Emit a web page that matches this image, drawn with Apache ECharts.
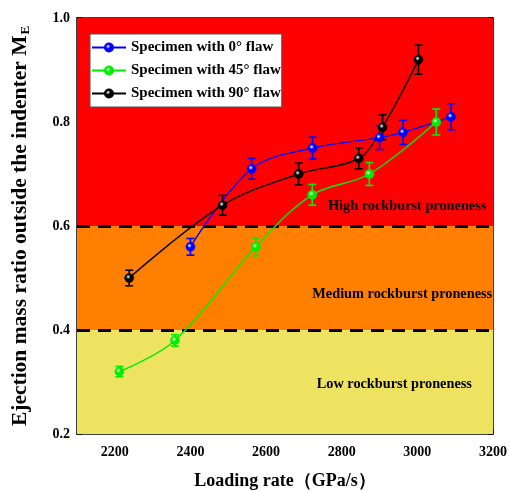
<!DOCTYPE html>
<html>
<head>
<meta charset="utf-8">
<script src="https://cdn.jsdelivr.net/npm/echarts@6/dist/echarts.min.js"></script>
<style>
  html, body { margin: 0; padding: 0; background: #fff; }
  #chart { width: 510px; height: 491px; }
</style>
</head>
<body>
<div id="chart"></div>
<script>
// Loading rate (GPa/s) and ejection mass ratio M_E with error half-widths
const rate0  = [2400, 2562, 2723, 2900, 2962, 3089];
const me0    = [0.56, 0.71, 0.75, 0.77, 0.78, 0.81];
const err0   = [0.016, 0.02, 0.021, 0.023, 0.023, 0.025];

const rate45 = [2212, 2359, 2573, 2722, 2873, 3050];
const me45   = [0.32, 0.38, 0.56, 0.66, 0.70, 0.80];
const err45  = [0.01, 0.011, 0.017, 0.02, 0.022, 0.025];

const rate90 = [2238, 2485, 2686, 2845, 2908, 3003];
const me90   = [0.50, 0.64, 0.70, 0.73, 0.79, 0.92];
const err90  = [0.015, 0.019, 0.021, 0.02, 0.024, 0.028];

const seriesNames = ['Specimen with 0° flaw', 'Specimen with 45° flaw', 'Specimen with 90° flaw'];
const seriesColors = ['#0000ff', '#00ee00', '#000000'];

// Axis ticks
const xMajorTicks = [2200, 2400, 2600, 2800, 3000, 3200];
const xMinorTicks = [2100, 2300, 2500, 2700, 2900, 3100];

// Proneness zones: [lower, upper, label, label position]
const zones = [
  { from: 0.6, to: 1.0, color: '#ff0000', text: 'High rockburst proneness',   at: [2973, 0.638] },
  { from: 0.4, to: 0.6, color: '#ff8000', text: 'Medium rockburst proneness', at: [2960, 0.469] },
  { from: 0.2, to: 0.4, color: '#ede360', text: 'Low rockburst proneness',    at: [2939, 0.296] }
];
const thresholds = [0.6, 0.4];

const serif = '"Liberation Serif", "Times New Roman", serif';

function sphere(color) {
  return {
    type: 'radial', x: 0.4, y: 0.38, r: 0.7,
    colorStops: [
      { offset: 0, color: '#ffffff' },
      { offset: 0.35, color: color },
      { offset: 1, color: color }
    ]
  };
}

function pairs(xs, ys) { return xs.map((x, i) => [x, ys[i]]); }

function errorSeries(xs, ys, es, color) {
  return {
    type: 'custom',
    z: 4,
    silent: true,
    data: xs.map((x, i) => [x, ys[i] - es[i], ys[i] + es[i]]),
    renderItem: function (params, api) {
      const lo = api.coord([api.value(0), api.value(1)]);
      const hi = api.coord([api.value(0), api.value(2)]);
      const w = 4;
      const st = { stroke: color, lineWidth: 1.6 };
      return {
        type: 'group',
        children: [
          { type: 'line', shape: { x1: lo[0], y1: lo[1], x2: hi[0], y2: hi[1] }, style: st },
          { type: 'line', shape: { x1: lo[0] - w, y1: lo[1], x2: lo[0] + w, y2: lo[1] }, style: st },
          { type: 'line', shape: { x1: hi[0] - w, y1: hi[1], x2: hi[0] + w, y2: hi[1] }, style: st }
        ]
      };
    }
  };
}

function lineSeries(name, xs, ys, color) {
  return {
    name: name,
    type: 'line',
    z: 5,
    smooth: 0.35,
    data: pairs(xs, ys),
    symbol: 'circle',
    symbolSize: 9,
    lineStyle: { color: color, width: 1.4 },
    itemStyle: { color: sphere(color), borderColor: color, borderWidth: 0.6 }
  };
}

const axisText = { fontFamily: serif, fontWeight: 'bold', fontSize: 14, color: '#000' };
const axisLine = { show: true, lineStyle: { color: '#000', width: 1.5 } };

// Horizontal axis: one pass for line/labels/major ticks, one for minor ticks, mirrored on top
function xAxisDef(position, major, withLabels) {
  const def = {
    type: 'value', min: 2100, max: 3200, interval: 100, position: position,
    axisLine: major ? axisLine : { show: false },
    axisTick: {
      inside: true, length: major ? 5 : 3,
      customValues: major ? xMajorTicks : xMinorTicks,
      lineStyle: { color: '#000', width: major ? 1.5 : 1.2 }
    },
    splitLine: { show: false },
    axisLabel: { show: false }
  };
  if (withLabels) {
    def.axisLabel = Object.assign({
      show: true, margin: 11, customValues: xMajorTicks, formatter: v => String(v)
    }, axisText);
    def.name = 'Loading rate（GPa/s）';
    def.nameLocation = 'middle';
    def.nameGap = 38;
    def.nameTextStyle = { fontFamily: serif, fontWeight: 'bold', fontSize: 18, color: '#000' };
  }
  return def;
}

const chart = echarts.init(document.getElementById('chart'));
chart.setOption({
  animation: false,
  backgroundColor: '#fff',
  grid: { left: 77, right: 17, top: 18, bottom: 57, containLabel: false, outerBoundsMode: 'none' },
  legend: {
    data: seriesNames,
    orient: 'vertical',
    left: 90, top: 34,
    itemWidth: 34, itemHeight: 10, itemGap: 8,
    padding: [6, 1, 6, 1],
    backgroundColor: '#fff',
    borderColor: '#555', borderWidth: 1,
    borderRadius: 0,
    textStyle: { fontFamily: serif, fontWeight: 'bold', fontSize: 15, color: '#000' }
  },
  xAxis: [
    xAxisDef('bottom', true, true),
    xAxisDef('bottom', false, false),
    xAxisDef('top', true, false),
    xAxisDef('top', false, false)
  ],
  yAxis: [{
    type: 'value', min: 0.2, max: 1.0, interval: 0.2,
    axisLine: axisLine,
    axisTick: { inside: true, length: 5, lineStyle: { width: 1.5 } },
    minorTick: { show: true, splitNumber: 2, length: 3, lineStyle: { color: '#000', width: 1.2 } },
    splitLine: { show: false },
    axisLabel: Object.assign({ margin: 7, formatter: v => v.toFixed(1) }, axisText),
    name: '{m|Ejection mass ratio outside the indenter M}{s|E}',
    nameLocation: 'middle', nameGap: 45, nameRotate: 90,
    nameTextStyle: {
      rich: {
        m: { fontFamily: serif, fontWeight: 'bold', fontSize: 21.5, color: '#000' },
        s: { fontFamily: serif, fontWeight: 'bold', fontSize: 13, color: '#000', padding: [10, 0, 0, 1] }
      }
    }
  }, {
    type: 'value', min: 0.2, max: 1.0, interval: 0.2, position: 'right',
    axisLine: axisLine,
    axisTick: { inside: true, length: 5, lineStyle: { width: 1.5 } },
    minorTick: { show: true, splitNumber: 2, length: 3, lineStyle: { color: '#000', width: 1.2 } },
    splitLine: { show: false },
    axisLabel: { show: false }
  }],
  series: [
    {
      // proneness zones and threshold lines
      type: 'line', data: [], z: 1, silent: true,
      markArea: {
        silent: true,
        data: zones.map(zn => [
          { yAxis: zn.from, itemStyle: { color: zn.color, opacity: 1 } },
          { yAxis: zn.to }
        ])
      },
      markLine: {
        silent: true, symbol: 'none',
        label: { show: false },
        lineStyle: { color: '#000', width: 3, type: [13, 8] },
        data: thresholds.map(t => ({ yAxis: t }))
      }
    },
    {
      // zone captions
      type: 'line', data: [], z: 3, silent: true,
      markPoint: {
        silent: true, symbol: 'circle', symbolSize: 1,
        itemStyle: { color: 'rgba(0,0,0,0)' },
        label: {
          show: true, position: 'inside',
          fontFamily: serif, fontWeight: 'bold', fontSize: 14.3, color: '#000'
        },
        data: zones.map(zn => ({ coord: zn.at, value: zn.text, label: { formatter: zn.text } }))
      }
    },
    errorSeries(rate0, me0, err0, seriesColors[0]),
    errorSeries(rate45, me45, err45, seriesColors[1]),
    errorSeries(rate90, me90, err90, seriesColors[2]),
    lineSeries(seriesNames[0], rate0, me0, seriesColors[0]),
    lineSeries(seriesNames[1], rate45, me45, seriesColors[1]),
    lineSeries(seriesNames[2], rate90, me90, seriesColors[2])
  ]
});
</script>
</body>
</html>
